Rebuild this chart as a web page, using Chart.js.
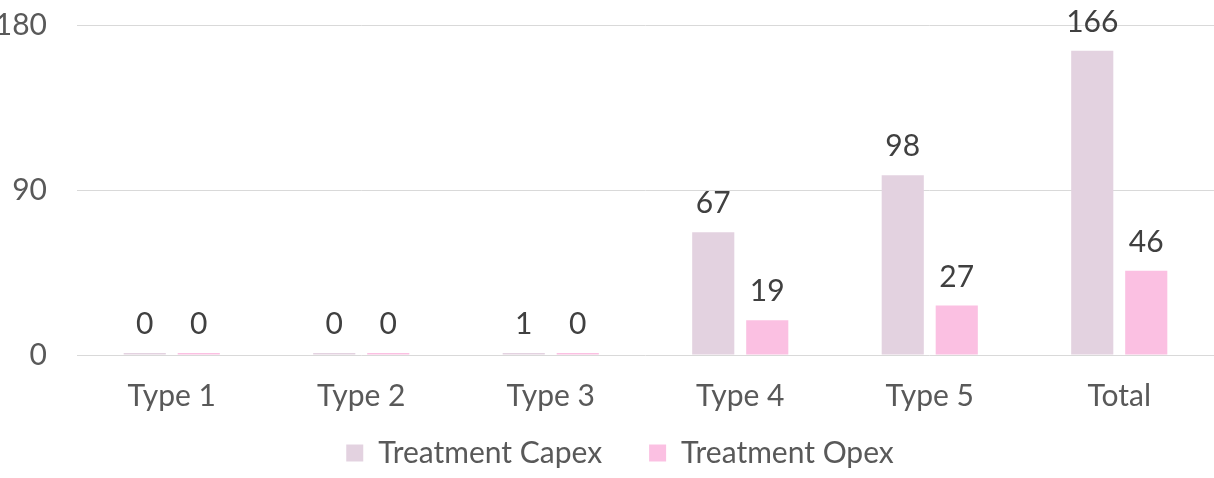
<!DOCTYPE html>
<html lang="en">
<head>
  <meta charset="UTF-8">
  <title>Treatment Capex vs Opex</title>
  <style>
    html, body { margin: 0; padding: 0; background: #fff; }
    #wrap { width: 1214px; height: 478px; position: relative; }
  </style>
</head>
<body>
  <div id="wrap"><canvas id="barChart"></canvas></div>
  <script src="https://cdn.jsdelivr.net/npm/chart.js"></script>
  <script>
    const categories = ['Type 1', 'Type 2', 'Type 3', 'Type 4', 'Type 5', 'Total'];
    const capex = [0, 0, 1, 67, 98, 166];
    const opex = [0, 0, 0, 19, 27, 46];
    const yTicks = [0, 90, 180];

    const fontFamily = "Lato, 'Open Sans', sans-serif";

    // draws the value above every bar
    const valueLabels = {
      id: 'valueLabels',
      afterDatasetsDraw(chart) {
        const ctx = chart.ctx;
        ctx.save();
        ctx.font = '30px ' + fontFamily;
        ctx.fillStyle = '#404040';
        ctx.textAlign = 'center';
        ctx.textBaseline = 'alphabetic';
        chart.data.datasets.forEach((ds, i) => {
          chart.getDatasetMeta(i).data.forEach((bar, j) => {
            ctx.fillText(String(ds.data[j]), bar.x, bar.y - 19);
          });
        });
        ctx.restore();
      }
    };

    // x axis box is kept short so the legend can sit close; don't clip its labels.
    // legend sits a little right of centre in the original
    const tweakLayout = {
      id: 'tweakLayout',
      afterLayout(chart) {
        chart.scales.x.bottom = chart.height;
        chart.legend.left += 26;
      }
    };

    new Chart(document.getElementById('barChart'), {
      type: 'bar',
      data: {
        labels: categories,
        datasets: [{
          label: 'Treatment Capex',
          data: capex,
          backgroundColor: '#E3D2E0',
          minBarLength: 2
        }, {
          label: 'Treatment Opex',
          data: opex,
          backgroundColor: '#FBC0E2',
          minBarLength: 2
        }]
      },
      options: {
        responsive: true,
        maintainAspectRatio: false,
        animation: false,
        categoryPercentage: 0.57,
        barPercentage: 0.78,
        layout: { padding: { top: 25, right: 0, bottom: 0, left: 0 } },
        plugins: {
          tooltip: { enabled: false },
          legend: {
            position: 'bottom',
            maxHeight: 87,
            labels: {
              boxWidth: 17,
              boxHeight: 17,
              padding: 47,
              color: '#595959',
              font: { family: fontFamily, size: 30 }
            }
          }
        },
        scales: {
          x: {
            afterFit(axis) { axis.height = 36; },
            grid: { display: false, drawTicks: false },
            border: { display: false },
            ticks: { color: '#595959', padding: 23, font: { family: fontFamily, size: 30 } }
          },
          y: {
            min: 0,
            max: 180,
            afterBuildTicks(axis) { axis.ticks = yTicks.map(v => ({ value: v })); },
            afterFit(axis) {
              axis.width = 77;
              axis.paddingTop = 0;
              axis.paddingBottom = 0;
            },
            grid: { color: '#D9D9D9', drawTicks: false },
            border: { display: false },
            ticks: { color: '#595959', padding: 30, font: { family: fontFamily, size: 30 } }
          }
        }
      },
      plugins: [valueLabels, tweakLayout]
    });
  </script>
</body>
</html>
